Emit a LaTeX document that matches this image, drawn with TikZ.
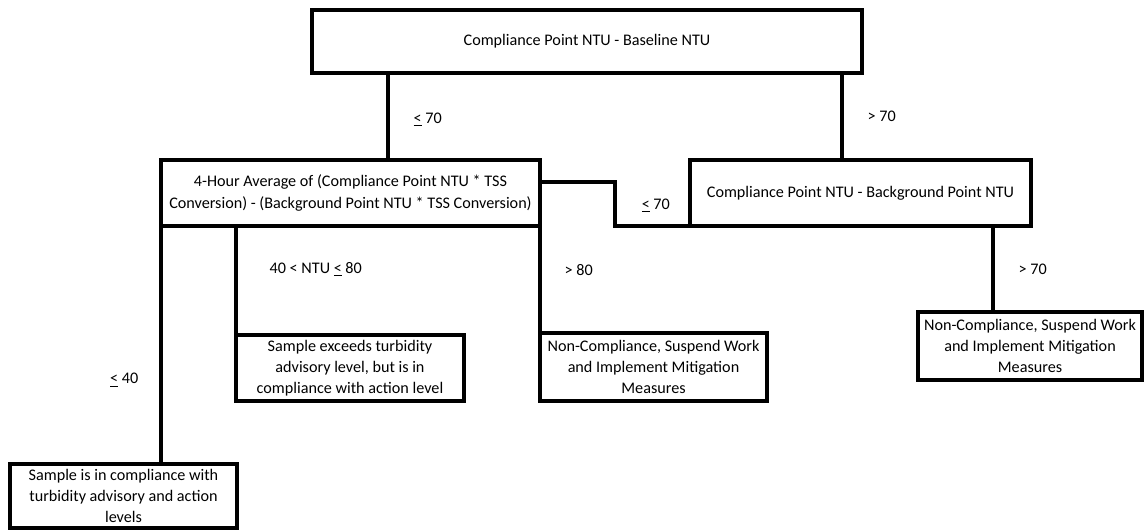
\documentclass[tikz,border=0pt]{standalone}
\usepackage{fontspec}
\setmainfont{Carlito}
\usepackage{tikz}
\usetikzlibrary{arrows,shapes}
\tikzstyle{box}=[draw, rectangle, line width=2.4pt, outer sep=0pt, inner sep=2pt, align=center, font=\fontsize{11.5}{15}\selectfont]
\tikzstyle{edge} = [draw,line width=2.4pt,-]
\tikzstyle{note} = [draw=none, inner sep=0pt, align=center, font=\fontsize{11.5}{13}\selectfont]
\newcommand{\uleq}{\underline{<}}

\begin{document}
\begin{tikzpicture}[x=0.025cm, y=-0.025cm]
		\useasboundingbox (0,0) rectangle (1144,531);
		% First we draw the boxes
		\node[box, minimum width=13.75cm, minimum height=1.575cm] (top) at (587,41.5) {Compliance Point NTU - Baseline NTU};
		\node[box, minimum width=9.475cm, minimum height=1.65cm] (avg) at (350.5,193) {4-Hour Average of (Compliance Point NTU * TSS\\ Conversion) - (Background Point NTU * TSS Conversion)};
		\node[box, minimum width=8.525cm, minimum height=1.65cm] (bg) at (860.5,193) {Compliance Point NTU - Background Point NTU};
		
		\node[box, minimum width=5.7cm, minimum height=1.65cm] (exceed) at (350,368) {Sample exceeds turbidity\\ advisory level, but is in\\ compliance with action level};
		\node[box, minimum width=5.675cm, minimum height=1.7cm] (nca) at (653.5,367) {Non-Compliance, Suspend Work\\ and Implement Mitigation\\ Measures};
		\node[box, minimum width=5.6cm, minimum height=1.7cm] (ncb) at (1030,346) {Non-Compliance, Suspend Work\\ and Implement Mitigation\\ Measures};
		\node[box, minimum width=5.675cm, minimum height=1.6cm] (ok) at (123.5,496) {Sample is in compliance with\\ turbidity advisory and action\\ levels};
		
		% Connect boxes with edges 
		\path[edge] ([xshift=0.9375cm]avg.north |- top.south) -- node[note, right=0.6cm, yshift=-2pt] {\uleq\ 70} ([xshift=0.9375cm]avg.north);
		\path[edge] ([xshift=-0.4625cm]bg.north |- top.south) -- node[note, right=0.6cm] {> 70} ([xshift=-0.4625cm]bg.north);
		\path[edge] (avg.north east) ++(0,22) -- ++(75,0) |- node[note, pos=0.25, right=0.625cm, yshift=-1pt] {\uleq\ 70} (bg.south west);
		
		\path[edge] (avg.south west) -- node[note, pos=0.647, left=0.525cm] {\uleq\ 40} (avg.south west |- ok.north);
		\path[edge] (exceed.north west |- avg.south) -- node[note, pos=0.4, right=0.8cm] {40 < NTU \uleq\ 80} (exceed.north west);
		\path[edge] (avg.south east) -- node[note, pos=0.41, right=0.575cm] {> 80} (avg.south east |- nca.north);
		\path[edge] ([xshift=1.875cm]ncb.north west |- bg.south) -- node[note, right=0.6cm] {> 70} ([xshift=1.875cm]ncb.north west);
		\end{tikzpicture}
\end{document}
